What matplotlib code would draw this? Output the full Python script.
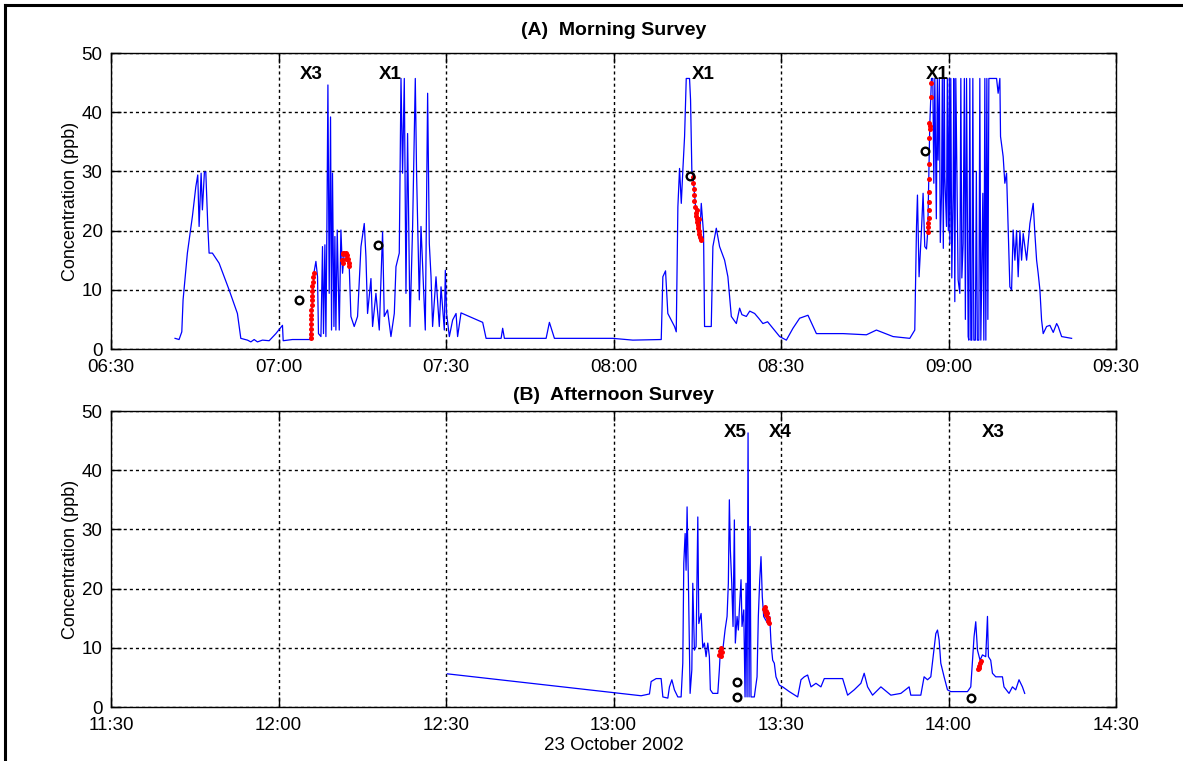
import matplotlib
matplotlib.use("Agg")
import matplotlib.pyplot as plt
from matplotlib.ticker import FuncFormatter, MultipleLocator
from matplotlib.lines import Line2D

plt.rcParams['font.family'] = ['Liberation Sans', 'DejaVu Sans']

# ---- Morning survey (time in minutes after midnight, concentration in ppb) ----
am_time = [401.47, 402.19, 402.68, 402.91, 403.68, 404.58, 405.19, 405.54, 405.78, 406.14,
           406.37, 406.73, 406.98, 407.34, 407.57, 408.16, 409.36, 411.15, 412.64, 413.25,
           414.44, 415.05, 415.64, 416.23, 417.13, 418.33, 419.53, 420.71, 420.84, 422.50,
           425.68, 426.39, 426.70, 426.99, 427.16, 427.60, 427.88, 428.06, 428.31, 428.49,
           428.67, 428.85, 429.08, 429.32, 429.50, 429.67, 429.93, 430.10, 430.28, 430.52,
           430.88, 431.18, 431.47, 431.77, 432.13, 432.67, 432.97, 433.56, 434.16, 434.77,
           435.36, 435.66, 435.95, 436.56, 436.85, 437.45, 438.05, 438.64, 438.94, 439.53,
           440.14, 440.74, 441.04, 441.63, 441.94, 442.22, 442.53, 442.83, 443.12, 443.55,
           444.02, 444.50, 444.73, 445.22, 445.52, 446.29, 446.71, 447.01, 447.32, 447.60,
           448.21, 448.80, 449.11, 449.70, 449.88, 450.11, 450.60, 451.19, 451.80, 452.08,
           452.69, 456.57, 457.18, 459.87, 460.15, 460.46, 467.93, 468.52, 469.42, 479.87,
           483.46, 488.55, 488.84, 489.32, 489.73, 490.34, 490.93, 491.24, 491.53, 491.83,
           492.14, 492.42, 492.73, 493.03, 493.62, 493.80, 494.04, 494.22, 494.88, 495.42,
           495.72, 496.13, 496.31, 497.51, 497.80, 498.41, 499.00, 499.90, 500.49, 501.10,
           502.00, 502.59, 503.00, 503.79, 504.40, 505.28, 506.00, 506.76, 507.60, 508.56,
           509.76, 510.96, 512.14, 513.34, 514.83, 516.34, 521.11, 525.30, 527.09, 530.07,
           533.07, 533.96, 534.27, 534.44,
           534.73, 535.16, 535.45, 535.75, 536.06, 536.29, 536.65, 536.95, 537.19, 537.37,
           537.55, 537.82, 538.00, 538.14, 538.36, 538.53, 538.75, 538.89, 539.07, 539.25,
           539.34, 539.64, 539.79, 539.97, 540.15, 540.24, 540.41, 540.59, 540.83, 540.95,
           541.13, 541.31, 541.44, 541.72, 542.03, 542.21, 542.39, 542.62, 542.84, 543.02,
           543.23, 543.52, 543.64, 543.82, 544.00, 544.18, 544.36, 544.54, 544.81, 544.99,
           545.16, 545.43, 545.61, 545.79, 546.15, 546.33, 546.51, 546.69, 546.87, 547.05,
           547.23, 548.61, 548.89, 549.20, 549.32, 549.79, 550.09, 550.40, 550.69, 550.99,
           551.30, 551.58, 551.89, 552.19, 552.48, 552.79, 553.09, 553.38, 553.99, 554.58,
           554.88, 555.17, 555.47, 555.78, 556.06, 556.37, 556.67, 556.96, 557.57, 558.16,
           558.76, 559.37, 559.65, 560.26, 562.05]
am_conc = [1.8, 1.6, 2.9, 8.3, 16.2, 22.4, 27.4, 29.4, 20.7, 29.7,
           23.5, 29.9, 29.9, 20.7, 16.2, 16.2, 14.5, 10.0, 6.0, 1.8,
           1.5, 1.2, 1.6, 1.2, 1.5, 1.4, 2.6, 4.0, 1.4, 1.6,
           1.6, 13.1, 14.8, 12.2, 2.6, 2.1, 17.3, 2.6, 17.6, 2.1,
           20.7, 44.6, 9.4, 39.2, 3.2, 29.7, 3.8, 19.0, 3.2, 20.1,
           3.2, 20.1, 12.8, 16.2, 15.5, 13.9, 5.5, 3.8, 5.5, 17.3,
           21.2, 15.6, 6.0, 11.9, 3.8, 9.4, 3.2, 19.8, 5.5, 6.6,
           2.1, 6.0, 13.9, 16.2, 45.7, 29.7, 45.7, 9.4, 36.4, 3.8,
           20.7, 45.7, 29.7, 8.3, 20.7, 3.2, 43.2, 17.8, 12.2, 3.8,
           12.2, 3.8, 10.5, 3.2, 13.3, 6.0, 2.1, 4.9, 6.0, 2.1,
           6.1, 4.5, 1.8, 1.8, 3.5, 1.8, 1.8, 4.5, 1.8, 1.8,
           1.5, 1.6, 12.2, 13.2, 6.0, 4.9, 3.8, 2.9, 24.0, 30.5,
           24.6, 30.2, 35.9, 45.7, 45.7, 42.1, 29.7, 29.4, 22.0, 18.4,
           24.6, 19.5, 3.8, 3.8, 17.3, 20.4, 17.3, 15.0, 12.2, 5.5,
           4.3, 6.9, 5.8, 5.5, 6.4, 6.0, 5.2, 4.3, 4.6, 3.5,
           2.1, 1.5, 3.5, 5.2, 5.7, 2.6, 2.6, 2.4, 3.2, 2.1,
           1.8, 3.2, 20.7, 26.0,
           12.2, 20.1, 26.3, 17.3, 16.9, 20.0, 38.0, 45.7, 45.7, 28.0,
           45.7, 22.0, 45.7, 31.9, 45.7, 18.0, 26.3, 45.7, 17.0, 45.7,
           29.1, 20.7, 45.7, 20.0, 45.7, 17.8, 45.7, 12.0, 26.3, 45.7,
           8.0, 45.7, 34.7, 11.7, 9.4, 45.7, 12.0, 17.8, 45.7, 5.0,
           45.7, 2.1, 1.5, 45.7, 1.5, 1.5, 45.7, 1.5, 1.5, 30.0,
           1.5, 1.5, 45.7, 1.5, 26.3, 1.5, 45.7, 1.5, 45.7, 5.0,
           45.7, 45.7, 43.2, 45.7, 35.9, 32.5, 28.0, 29.7, 20.1, 10.5,
           10.0, 20.1, 15.0, 20.0, 12.2, 20.0, 15.0, 19.5, 15.0, 21.2,
           22.9, 24.6, 19.5, 15.0, 12.8, 10.0, 4.9, 2.6, 3.8, 4.0,
           2.8, 4.3, 3.8, 2.1, 1.8]

# readings taken while passing each source (red) and source-location estimates (o)
am_hit_time = [425.80, 425.80, 425.80, 425.85, 425.85, 425.90, 425.90, 425.95, 425.95, 426.00,
               426.00, 426.05, 426.10, 426.20, 426.30,
               431.40, 431.50, 431.50, 431.60, 431.80, 432.00, 432.00, 432.20, 432.40, 432.60, 432.70,
               494.20, 494.30, 494.35, 494.40, 494.50, 494.55, 494.70, 494.80, 494.90, 495.00,
               495.10, 495.20, 495.30, 495.40, 495.50, 495.60, 495.70, 495.00, 495.40,
               536.78, 536.78, 536.52, 536.65, 536.65, 536.52, 536.52, 536.52, 536.52, 536.52,
               536.52, 536.52, 536.35, 536.24, 536.24]
am_hit_conc = [1.8, 2.6, 3.4, 4.2, 5.0, 5.8, 6.6, 7.4, 8.2, 9.0,
               9.8, 10.6, 11.4, 12.2, 12.9,
               15.0, 16.0, 14.6, 16.3, 16.2, 16.3, 15.2, 15.8, 15.2, 14.6, 14.0,
               29.0, 28.0, 27.0, 26.0, 25.0, 24.0, 23.0, 22.5, 22.0, 21.5,
               21.0, 20.5, 20.0, 19.5, 19.0, 18.6, 18.4, 23.5, 22.0,
               45.0, 42.5, 38.2, 37.6, 37.1, 35.7, 31.3, 28.8, 26.6, 24.9,
               23.4, 22.2, 21.2, 20.6, 19.7]
am_est_time = [423.70, 437.74, 493.62, 535.75]
am_est_conc = [8.3, 17.6, 29.3, 33.5]
am_labels = ['X3', 'X1', 'X1', 'X1']
am_label_time = [425.9, 440.0, 496.0, 537.9]

# ---- Afternoon survey ----
pm_time = [750.25, 780.30, 784.95, 786.44, 786.74, 787.64, 788.53, 788.84, 789.73, 790.02,
           790.45, 790.91, 791.52, 792.11, 792.41, 792.59, 792.83, 793.00, 793.18, 793.42,
           793.72, 794.03, 794.20, 794.49, 794.79, 795.10, 795.28, 795.69, 795.99, 796.28,
           796.58, 796.89, 797.17, 797.35, 797.78, 798.68, 798.96, 799.14, 799.57, 799.98,
           800.34, 800.57, 800.75, 800.93, 801.18, 801.41, 801.65, 801.82, 802.13, 802.36,
           802.54, 802.84, 803.02, 803.33, 803.56, 803.74, 803.92, 804.10, 804.28, 804.46,
           804.63, 805.22, 805.71, 805.94, 806.19, 806.42, 806.65, 806.90, 807.62, 807.98,
           808.21, 808.51, 808.80, 809.10, 809.70, 810.30, 811.48, 812.99, 813.58, 814.17,
           814.77, 815.37, 816.26, 817.15, 817.75, 821.04, 821.93, 823.11, 824.31, 824.90,
           825.51, 826.40, 827.89, 829.68, 831.47, 832.95, 833.25, 835.04, 835.63, 836.24,
           836.83, 837.73, 838.03, 838.32, 838.62, 839.21, 839.82, 840.41, 843.40, 843.99,
           844.58, 844.88, 845.19, 845.65, 846.08, 846.67, 846.98, 847.15, 847.56, 847.87,
           848.46, 849.66, 849.94, 850.84, 851.45, 852.04, 852.63, 853.24, 853.65]
pm_conc = [5.6, 2.4, 1.9, 2.2, 4.3, 4.8, 4.8, 1.7, 1.5, 3.4,
           4.6, 2.9, 1.7, 1.7, 7.4, 24.3, 29.3, 23.1, 33.8, 20.9,
           2.3, 6.3, 20.9, 9.6, 10.2, 32.1, 14.1, 15.8, 10.0, 10.8,
           8.5, 10.8, 8.5, 2.9, 2.3, 2.3, 6.3, 9.6, 9.6, 13.0,
           15.3, 20.9, 35.0, 26.5, 20.9, 13.6, 31.6, 10.8, 15.3, 13.0,
           16.4, 21.5, 13.6, 16.4, 1.7, 20.9, 1.7, 46.3, 1.7, 30.5,
           1.7, 1.7, 5.1, 15.3, 21.5, 25.4, 18.6, 15.3, 14.1, 15.3,
           10.8, 7.9, 7.4, 5.1, 3.7, 3.4, 2.6, 1.7, 4.6, 5.1,
           5.4, 3.4, 4.0, 3.4, 4.8, 4.8, 2.0, 2.9, 4.0, 5.7,
           3.4, 2.0, 3.4, 2.0, 2.3, 3.4, 2.0, 2.0, 5.1, 4.6,
           5.1, 12.4, 13.0, 11.3, 7.4, 5.1, 2.9, 2.6, 2.6, 3.4,
           11.9, 14.4, 9.6, 7.9, 8.8, 8.5, 15.3, 8.5, 7.9, 5.7,
           5.1, 5.1, 3.4, 2.3, 3.4, 2.9, 4.6, 3.4, 2.3]

pm_hit_time = [798.95, 799.10, 799.25, 799.40, 799.20,
               807.00, 807.10, 807.20, 807.30, 807.40, 807.50, 807.60, 807.70, 807.80,
               845.30, 845.50, 845.70, 845.90, 845.50]
pm_hit_conc = [8.8, 9.5, 9.9, 9.3, 8.6,
               16.5, 16.9, 16.0, 15.5, 16.3, 15.8, 15.0, 14.5, 14.2,
               6.4, 7.0, 7.5, 7.8, 6.6]
pm_est_time = [802.1, 802.1, 844.0]
pm_est_conc = [4.3, 1.7, 1.5]
pm_labels = ['X5', 'X4', 'X3']
pm_label_time = [801.8, 809.8, 848.1]

W, H = 1183, 761
fig = plt.figure(figsize=(W / 100, H / 100), dpi=100)
fig.patch.set_facecolor('white')

# outer frame (left and top edges)
fx, fy = 4.5 / W, 1 - 5 / H
fig.add_artist(Line2D([fx, fx], [-0.01, fy], transform=fig.transFigure, color='black', lw=2.2))
fig.add_artist(Line2D([fx, 1.01], [fy, fy], transform=fig.transFigure, color='black', lw=2.2))


def hhmm(x, pos=None):
    m = int(round(x))
    return f"{m // 60:02d}:{m % 60:02d}"


def panel(rect, t, c, ht, hc, et, ec, labels, lt, xlim, title, title_pad):
    ax = fig.add_axes(rect)
    ax.plot(t, c, color='#0000ff', lw=0.9, zorder=3)
    ax.plot(ht, hc, linestyle='none', marker='o', ms=3.6, color='#ff0000',
            markeredgewidth=0, zorder=4)
    ax.plot(et, ec, linestyle='none', marker='o', ms=5.5, mfc='none', mec='black',
            mew=1.7, zorder=5)
    for s, x in zip(labels, lt):
        ax.text(x, 46.3, s, ha='center', va='center', fontsize=13.5,
                fontweight='bold', zorder=6)
    ax.set_xlim(*xlim)
    ax.set_ylim(0, 50)
    ax.xaxis.set_major_locator(MultipleLocator(30))
    ax.yaxis.set_major_locator(MultipleLocator(10))
    ax.xaxis.set_major_formatter(FuncFormatter(hhmm))
    ax.grid(True, color='black', linestyle=(0, (2.2, 2.2)), lw=1.0)
    ax.tick_params(direction='in', length=7, width=1.0, top=True, right=True,
                   labelsize=13.5, colors='black')
    ax.tick_params(axis='x', pad=7)
    ax.tick_params(axis='y', pad=6)
    for sp in ax.spines.values():
        sp.set_linewidth(1.0)
    ax.set_ylabel('Concentration (ppb)', fontsize=13, labelpad=2)
    ax.set_title(title, fontsize=14, fontweight='bold', pad=title_pad)
    return ax


left, width = 111 / W, 1005 / W
ax1 = panel([left, 1 - 349 / H, width, 296 / H], am_time, am_conc, am_hit_time, am_hit_conc,
            am_est_time, am_est_conc, am_labels, am_label_time, (390, 570),
            '(A)  Morning Survey', 13)
ax2 = panel([left, 1 - 707 / H, width, 296 / H], pm_time, pm_conc, pm_hit_time, pm_hit_conc,
            pm_est_time, pm_est_conc, pm_labels, pm_label_time, (690, 870),
            '(B)  Afternoon Survey', 8)
ax2.set_xlabel('23 October 2002', fontsize=13.5, labelpad=2)

fig.savefig('out.png', dpi=100)
